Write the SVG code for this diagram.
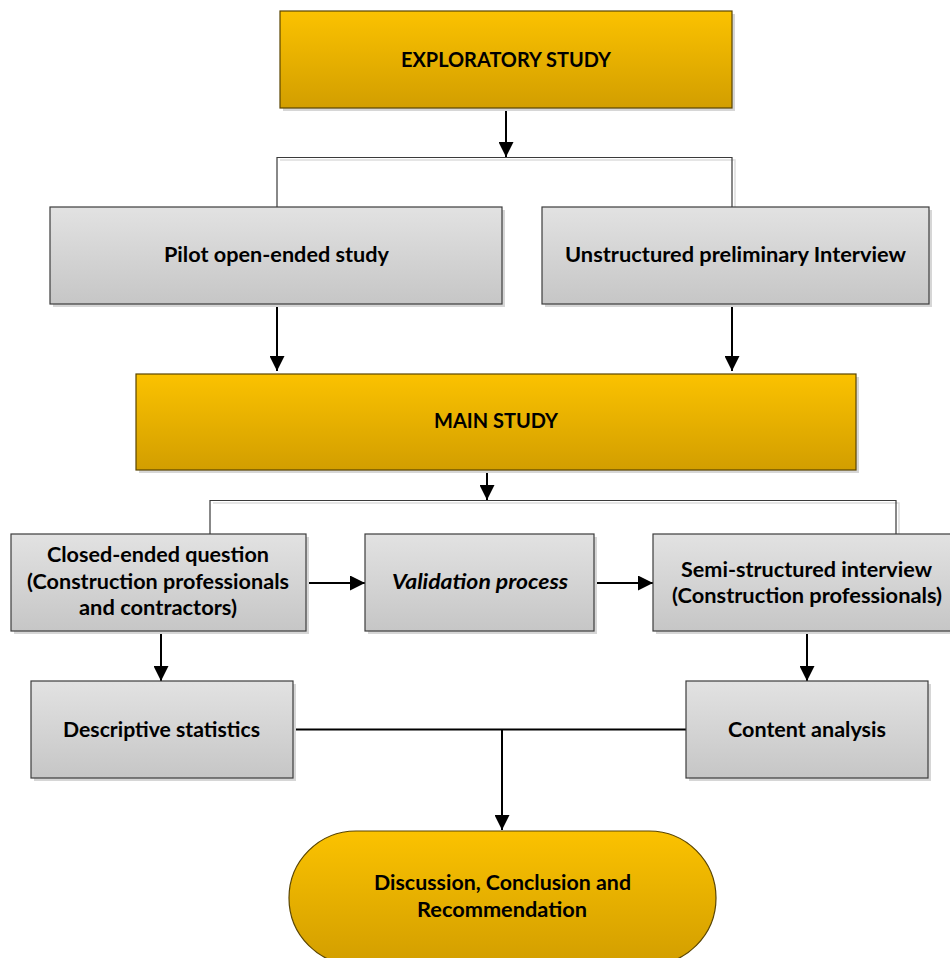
<svg xmlns="http://www.w3.org/2000/svg" width="950" height="958" viewBox="0 0 950 958">
  <defs>
    <linearGradient id="gold" x1="0" y1="0" x2="0" y2="1">
      <stop offset="0" stop-color="#FBC200"/>
      <stop offset="1" stop-color="#D29E00"/>
    </linearGradient>
    <linearGradient id="grey" x1="0" y1="0" x2="0" y2="1">
      <stop offset="0" stop-color="#E2E2E2"/>
      <stop offset="1" stop-color="#C6C6C6"/>
    </linearGradient>
    <marker id="arrowL" viewBox="0 0 15 15" refX="15" refY="7.5" markerWidth="15" markerHeight="15" markerUnits="userSpaceOnUse" orient="auto">
      <path d="M0,0 L15,7.5 L0,15 z" fill="#000"/>
    </marker>
  </defs>
  <style>
    .gold { fill: url(#gold); stroke: #5a4500; stroke-width: 1.2; }
    .grey { fill: url(#grey); stroke: #3c3c3c; stroke-width: 1.2; }
    .shadow { fill: #d6d6d6; }
    .lbl { font-family: Lato, "Open Sans", "Liberation Sans", sans-serif; font-weight: bold; font-size: 21.5px; fill: #000; text-anchor: middle; }
    .it { font-style: italic; }
    .arr { fill: none; stroke: #000; stroke-width: 2; marker-end: url(#arrowL); }
    .line { fill: none; stroke: #000; stroke-width: 2; }
    .thin { fill: none; stroke: #3a3a3a; stroke-width: 1.2; }
    .thinShadow { fill: none; stroke: #dddddd; stroke-width: 1.5; }
  </style>

  <rect width="950" height="958" fill="#fff"/>

  <!-- connectors -->
  <g id="connectors">
    <!-- branch under exploratory study -->
    <path class="thinShadow" d="M280,160 H735 V207"/>
    <path class="thin" d="M277,207 V157.5 H732 V207"/>
    <path class="arr" d="M506,109 V157"/>
    <!-- into main study -->
    <path class="arr" d="M277,305 V371"/>
    <path class="arr" d="M732,305 V371"/>
    <!-- branch under main study -->
    <path class="thinShadow" d="M213,503 H899 V534"/>
    <path class="thin" d="M210,534 V500.5 H896 V534"/>
    <path class="arr" d="M487,471 V500"/>
    <!-- across the middle row -->
    <path class="arr" d="M306,583 H365"/>
    <path class="arr" d="M594,583 H653"/>
    <!-- down to analyses -->
    <path class="arr" d="M161,632 V681"/>
    <path class="arr" d="M807,632 V681"/>
    <!-- merge to conclusion -->
    <path class="line" d="M293,729.5 H686"/>
    <path class="arr" d="M502,729.5 V830"/>
  </g>

  <g id="exploratory">
    <rect class="shadow" x="283" y="14" width="452" height="97"/>
    <rect class="gold" x="280" y="11" width="452" height="97"/>
    <text class="lbl" x="506" y="67" textLength="210" lengthAdjust="spacingAndGlyphs">EXPLORATORY STUDY</text>
  </g>

  <g id="pilot">
    <rect class="shadow" x="53" y="210" width="452" height="97"/>
    <rect class="grey" x="50" y="207" width="452" height="97"/>
    <text class="lbl" x="276.5" y="262" textLength="225" lengthAdjust="spacingAndGlyphs">Pilot open-ended study</text>
  </g>

  <g id="unstructured">
    <rect class="shadow" x="545" y="210" width="387" height="97"/>
    <rect class="grey" x="542" y="207" width="387" height="97"/>
    <text class="lbl" x="735.5" y="262" textLength="341" lengthAdjust="spacingAndGlyphs">Unstructured preliminary Interview</text>
  </g>

  <g id="main">
    <rect class="shadow" x="139" y="377" width="720" height="96"/>
    <rect class="gold" x="136" y="374" width="720" height="96"/>
    <text class="lbl" x="496" y="428" textLength="124" lengthAdjust="spacingAndGlyphs">MAIN STUDY</text>
  </g>

  <g id="closed">
    <rect class="shadow" x="14" y="537" width="295" height="97"/>
    <rect class="grey" x="11" y="534" width="295" height="97"/>
    <text class="lbl" x="158" y="562" textLength="222" lengthAdjust="spacingAndGlyphs">Closed-ended question</text>
    <text class="lbl" x="158" y="589" textLength="262" lengthAdjust="spacingAndGlyphs">(Construction professionals</text>
    <text class="lbl" x="158" y="615" textLength="158" lengthAdjust="spacingAndGlyphs">and contractors)</text>
  </g>

  <g id="validation">
    <rect class="shadow" x="368" y="537" width="229" height="97"/>
    <rect class="grey" x="365" y="534" width="229" height="97"/>
    <text class="lbl it" x="480" y="589" textLength="176" lengthAdjust="spacingAndGlyphs">Validation process</text>
  </g>

  <g id="semi">
    <rect class="shadow" x="656" y="537" width="300" height="97"/>
    <rect class="grey" x="653" y="534" width="302" height="97"/>
    <text class="lbl" x="806.5" y="577" textLength="251" lengthAdjust="spacingAndGlyphs">Semi-structured interview</text>
    <text class="lbl" x="807" y="603" textLength="270" lengthAdjust="spacingAndGlyphs">(Construction professionals)</text>
  </g>

  <g id="descriptive">
    <rect class="shadow" x="34" y="684" width="262" height="97"/>
    <rect class="grey" x="31" y="681" width="262" height="97"/>
    <text class="lbl" x="161.5" y="737" textLength="197" lengthAdjust="spacingAndGlyphs">Descriptive statistics</text>
  </g>

  <g id="content">
    <rect class="shadow" x="689" y="684" width="242" height="97"/>
    <rect class="grey" x="686" y="681" width="242" height="97"/>
    <text class="lbl" x="807" y="737" textLength="158" lengthAdjust="spacingAndGlyphs">Content analysis</text>
  </g>

  <g id="conclusion">
    <rect class="gold" x="289" y="831" width="427" height="134" rx="67" ry="67"/>
    <text class="lbl" x="502.5" y="890" textLength="257" lengthAdjust="spacingAndGlyphs">Discussion, Conclusion and</text>
    <text class="lbl" x="502" y="917" textLength="170" lengthAdjust="spacingAndGlyphs">Recommendation</text>
  </g>
</svg>
